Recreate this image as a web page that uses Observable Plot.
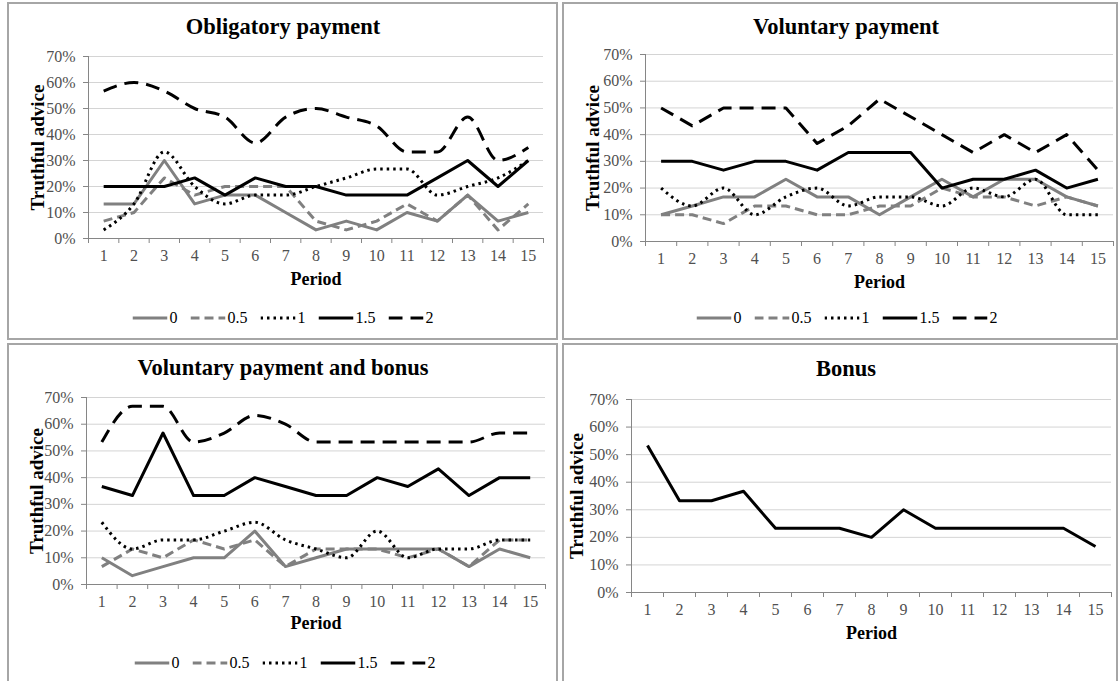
<!DOCTYPE html>
<html><head><meta charset="utf-8">
<script src="https://cdn.jsdelivr.net/npm/d3@7"></script>
<script src="https://cdn.jsdelivr.net/npm/@observablehq/plot@0.6"></script>
<style>
body{margin:0;width:1118px;height:681px;overflow:hidden;background:#fff;position:relative;font-family:"Liberation Serif","Tinos","Times New Roman",serif;}
.box{position:absolute;box-sizing:border-box;border:2px solid #a6a6a6;}
.title{position:absolute;font-weight:bold;font-size:22.5px;transform:translate(-50%,-50%);white-space:nowrap;color:#000;line-height:1}
.plot{position:absolute}
.plot text{font-family:"Liberation Serif","Tinos","Times New Roman",serif;}
.legend{position:absolute;transform:translate(-50%,-50%);display:flex;align-items:center;font-size:16px;white-space:nowrap;color:#000;line-height:1}
.legend span{margin-left:2px;margin-right:13px}
.legend span:last-child{margin-right:0}
</style></head><body>
<script>
// ---------- data ----------
const periods = [1,2,3,4,5,6,7,8,9,10,11,12,13,14,15];
const yTicks = [0,10,20,30,40,50,60,70];
const seriesNames = ["0","0.5","1","1.5","2"];
const panelTitles = ["Obligatory payment","Voluntary payment","Voluntary payment and bonus","Bonus"];

// Obligatory payment
const oblig_0   = [13.3,13.3,30,13.3,16.7,16.7,10,3.3,6.7,3.3,10,6.7,16.7,6.7,10];
const oblig_05  = [6.7,10,23.3,16.7,20,20,20,6.7,3.3,6.7,13.3,6.7,16.7,3.3,13.3];
const oblig_1   = [3.3,13.3,33.3,20,13.3,16.7,16.7,20,23.3,26.7,26.7,16.7,20,23.3,30];
const oblig_15  = [20,20,20,23.3,16.7,23.3,20,20,16.7,16.7,16.7,23.3,30,20,30];
const oblig_2   = [56.7,60,56.7,50,46.7,36.7,46.7,50,46.7,43.3,33.3,33.3,46.7,30,35];

// Voluntary payment
const vol_0   = [10,13.3,16.7,16.7,23.3,16.7,16.7,10,16.7,23.3,16.7,23.3,23.3,16.7,13.3];
const vol_05  = [10,10,6.7,13.3,13.3,10,10,13.3,13.3,20,16.7,16.7,13.3,16.7,13.3];
const vol_1   = [20,13.3,20,10,16.7,20,13.3,16.7,16.7,13.3,20,16.7,23.3,10,10];
const vol_15  = [30,30,26.7,30,30,26.7,33.3,33.3,33.3,20,23.3,23.3,26.7,20,23.3];
const vol_2   = [50,43.3,50,50,50,36.7,43.3,53.3,46.7,40,33.3,40,33.3,40,26.7];

// Voluntary payment and bonus
const vpb_0   = [10,3.3,6.7,10,10,20,6.7,10,13.3,13.3,13.3,13.3,6.7,13.3,10];
const vpb_05  = [6.7,13.3,10,16.7,13.3,16.7,6.7,13.3,13.3,13.3,10,13.3,6.7,16.7,16.7];
const vpb_1   = [23.3,13.3,16.7,16.7,20,23.3,16.7,13.3,10,20,10,13.3,13.3,16.7,16.7];
const vpb_15  = [36.7,33.3,56.7,33.3,33.3,40,36.7,33.3,33.3,40,36.7,43.3,33.3,40,40];
const vpb_2   = [53.3,66.7,66.7,53.3,56.7,63.3,60,53.3,53.3,53.3,53.3,53.3,53.3,56.7,56.7];

// Bonus
const bonus   = [53.3,33.3,33.3,36.7,23.3,23.3,23.3,20,30,23.3,23.3,23.3,23.3,23.3,16.7];

// ---------- styles ----------
const styles = {
  "0":   {stroke:"#808080", dash:null},
  "0.5": {stroke:"#808080", dash:"9,5"},
  "1":   {stroke:"#000000", dash:"2.5,4"},
  "1.5": {stroke:"#000000", dash:null},
  "2":   {stroke:"#000000", dash:"14,8"}
};

// ---------- layout ----------
const panels = [
  {title:panelTitles[0], box:[7,2,551,338], L:88, R:543, T:56, B:238, titleX:283, titleY:27, periodY:279, ylabX:37, legend:[283,318],
   series:[oblig_0,oblig_05,oblig_1,oblig_15,oblig_2], smooth:["1","2"]},
  {title:panelTitles[1], box:[562,2,556,338], L:645, R:1113, T:54, B:241, titleX:846, titleY:27, periodY:282, ylabX:592, legend:[847,318],
   series:[vol_0,vol_05,vol_1,vol_15,vol_2], smooth:["1"]},
  {title:panelTitles[2], box:[7,343,551,360], L:86, R:545, T:397, B:584, titleX:283, titleY:368, periodY:623, ylabX:36, legend:[285,663],
   series:[vpb_0,vpb_05,vpb_1,vpb_15,vpb_2], smooth:["1","2"]},
  {title:panelTitles[3], box:[562,343,556,360], L:631, R:1111, T:399, B:592, titleX:846, titleY:369, periodY:633, ylabX:576, legend:null,
   series:[null,null,null,bonus,null], smooth:[]}
];

const bounds = d3.range(0.5, 16, 1);
const FONT = '"Liberation Serif","Tinos","Times New Roman",serif';

function el(tag, cls, parent){ const e=document.createElement(tag); if(cls) e.className=cls; (parent||document.body).appendChild(e); return e; }

panels.forEach(p => {
  const box = el("div","box");
  Object.assign(box.style,{left:p.box[0]+"px",top:p.box[1]+"px",width:p.box[2]+"px",height:p.box[3]+"px"});

  const t = el("div","title"); t.textContent = p.title;
  Object.assign(t.style,{left:p.titleX+"px",top:p.titleY+"px"});

  const svgLeft = p.box[0]+2;
  const width = p.box[2]-4;
  const marginTop = 16, marginBottom = 60;
  const svgTop = p.T - marginTop;
  const height = p.B - svgTop + marginBottom;
  const marginLeft = p.L - svgLeft;
  const marginRight = svgLeft + width - p.R;

  const lineMarks = [];
  p.series.forEach((vals, i) => {
    if (!vals) return;
    const name = seriesNames[i];
    const data = periods.map((x, j) => ({period:x, value:vals[j]}));
    const st = styles[name];
    lineMarks.push(Plot.line(data, {
      x:"period", y:"value", stroke:st.stroke, strokeWidth:3,
      strokeDasharray: st.dash || undefined,
      strokeLinecap:"butt", strokeLinejoin:"round",
      curve: p.smooth.includes(name) ? "monotone-x" : "linear"
    }));
  });

  const chart = Plot.plot({
    width, height, marginLeft, marginRight, marginTop, marginBottom,
    style:{fontFamily:FONT, fontSize:"16px", background:"transparent", overflow:"visible"},
    x:{domain:[0.5,15.5], label:null},
    y:{domain:[0,70], label:null},
    marks:[
      Plot.gridY(yTicks.slice(1), {stroke:"#d4d4d4", strokeOpacity:1, strokeWidth:1}),
      Plot.ruleY([0], {stroke:"#868686", strokeWidth:1}),
      Plot.ruleX([0.5], {stroke:"#868686", strokeWidth:1}),
      Plot.axisY(yTicks, {tickSize:5, tickPadding:8, tickFormat:d=>d+"%", stroke:"#868686", fill:"#505050", fontSize:16, label:null}),
      Plot.axisX(bounds, {tickSize:5, tickFormat:()=>"", stroke:"#868686", label:null}),
      Plot.axisX(periods, {tickSize:0, tickPadding:11, fill:"#505050", fontSize:16, label:null}),
      Plot.text(["Period"], {frameAnchor:"bottom", dy:p.periodY - p.B, lineAnchor:"middle", textAnchor:"middle", fontWeight:"bold", fontSize:18, fill:"#000"}),
      Plot.text(["Truthful advice"], {frameAnchor:"left", dx:p.ylabX - p.L, rotate:-90, lineAnchor:"middle", textAnchor:"middle", fontWeight:"bold", fontSize:19, fill:"#000"}),
      ...lineMarks
    ]
  });
  chart.classList.add("plot");
  Object.assign(chart.style,{position:"absolute", left:svgLeft+"px", top:svgTop+"px"});
  document.body.appendChild(chart);

  if (p.legend) {
    const lg = el("div","legend");
    Object.assign(lg.style,{left:p.legend[0]+"px", top:p.legend[1]+"px"});
    seriesNames.forEach(name => {
      const st = styles[name];
      const sv = document.createElementNS("http://www.w3.org/2000/svg","svg");
      sv.setAttribute("width","35"); sv.setAttribute("height","8");
      const ln = document.createElementNS("http://www.w3.org/2000/svg","line");
      ln.setAttribute("x1","0"); ln.setAttribute("x2","35"); ln.setAttribute("y1","4"); ln.setAttribute("y2","4");
      ln.setAttribute("stroke", st.stroke); ln.setAttribute("stroke-width","3");
      if (st.dash) ln.setAttribute("stroke-dasharray", st.dash);
      sv.appendChild(ln);
      lg.appendChild(sv);
      const sp = document.createElement("span"); sp.textContent = name; lg.appendChild(sp);
    });
  }
});
</script>
</body></html>
